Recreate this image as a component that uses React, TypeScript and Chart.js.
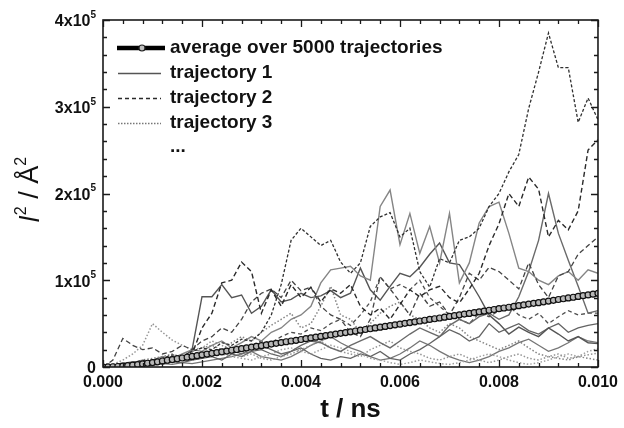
import { useEffect, useRef } from "react";
import { Chart, registerables } from "chart.js";

Chart.register(...registerables);

const FONT = "'Liberation Sans', Arial, Helvetica, sans-serif";

// time grid of the single trajectories (ns)
const TIME = [
  0, 0.0002, 0.0004, 0.0006, 0.0008, 0.001, 0.0012, 0.0014, 0.0016, 0.0018,
  0.002, 0.0022, 0.0024, 0.0026, 0.0028, 0.003, 0.0032, 0.0034, 0.0036, 0.0038,
  0.004, 0.0042, 0.0044, 0.0046, 0.0048, 0.005, 0.0052, 0.0054, 0.0056, 0.0058,
  0.006, 0.0062, 0.0064, 0.0066, 0.0068, 0.007, 0.0072, 0.0074, 0.0076, 0.0078,
  0.008, 0.0082, 0.0084, 0.0086, 0.0088, 0.009, 0.0092, 0.0094, 0.0096, 0.0098,
  0.01,
];

// time grid of the average curve (ns)
const AVG_TIME = [
  0, 0.0001, 0.0002, 0.0003, 0.0004, 0.0005, 0.0006, 0.0007, 0.0008, 0.0009,
  0.001, 0.0011, 0.0012, 0.0013, 0.0014, 0.0015, 0.0016, 0.0017, 0.0018, 0.0019,
  0.002, 0.0021, 0.0022, 0.0023, 0.0024, 0.0025, 0.0026, 0.0027, 0.0028, 0.0029,
  0.003, 0.0031, 0.0032, 0.0033, 0.0034, 0.0035, 0.0036, 0.0037, 0.0038, 0.0039,
  0.004, 0.0041, 0.0042, 0.0043, 0.0044, 0.0045, 0.0046, 0.0047, 0.0048, 0.0049,
  0.005, 0.0051, 0.0052, 0.0053, 0.0054, 0.0055, 0.0056, 0.0057, 0.0058, 0.0059,
  0.006, 0.0061, 0.0062, 0.0063, 0.0064, 0.0065, 0.0066, 0.0067, 0.0068, 0.0069,
  0.007, 0.0071, 0.0072, 0.0073, 0.0074, 0.0075, 0.0076, 0.0077, 0.0078, 0.0079,
  0.008, 0.0081, 0.0082, 0.0083, 0.0084, 0.0085, 0.0086, 0.0087, 0.0088, 0.0089,
  0.009, 0.0091, 0.0092, 0.0093, 0.0094, 0.0095, 0.0096, 0.0097, 0.0098, 0.0099,
  0.01,
];

// values in units of 10^3 Å^2
const AVG = [
  0, 0.1, 0.3, 0.6, 1.0, 1.5, 2.1, 2.8, 3.5, 4.3,
  5.1, 6.0, 6.9, 7.8, 8.6, 9.5, 10.4, 11.3, 12.2, 13.1,
  14.0, 14.9, 15.8, 16.6, 17.5, 18.4, 19.3, 20.2, 21.1, 22.0,
  22.9, 23.8, 24.6, 25.5, 26.4, 27.3, 28.2, 29.1, 30.0, 30.8,
  31.7, 32.6, 33.5, 34.4, 35.3, 36.2, 37.0, 37.9, 38.8, 39.7,
  40.6, 41.5, 42.4, 43.2, 44.1, 45.0, 45.9, 46.8, 47.7, 48.6,
  49.4, 50.3, 51.2, 52.1, 53.0, 53.9, 54.8, 55.6, 56.5, 57.4,
  58.3, 59.2, 60.1, 61.0, 61.8, 62.7, 63.6, 64.5, 65.4, 66.3,
  67.2, 68.0, 68.9, 69.8, 70.7, 71.6, 72.5, 73.4, 74.2, 75.1,
  76.0, 76.9, 77.8, 78.7, 79.6, 80.4, 81.3, 82.2, 83.1, 84.0,
  84.9,
];

const TRAJ_A = [0, 1, 3, 5, 8, 6, 10, 14, 12, 18, 22, 20, 28, 25, 32, 30, 40, 60, 95, 146, 160, 150, 140, 146, 121, 108, 120, 162, 173, 178, 150, 160, 110, 92, 125, 120, 146, 150, 160, 185, 200, 225, 245, 298, 340, 385, 345, 345, 282, 310, 285];
const TRAJ_B = [0, 2, 4, 3, 6, 8, 5, 10, 12, 15, 45, 62, 97, 100, 121, 110, 62, 89, 70, 95, 80, 92, 75, 90, 85, 95, 70, 60, 68, 55, 72, 89, 81, 89, 93, 80, 74, 90, 108, 140, 165, 200, 185, 219, 205, 150, 169, 158, 180, 250, 262];
const TRAJ_C = [0, 8, 33, 25, 20, 22, 15, 18, 25, 20, 30, 35, 45, 40, 55, 75, 85, 90, 80, 100, 88, 92, 70, 60, 55, 40, 35, 55, 104, 90, 75, 60, 85, 70, 75, 60, 80, 108, 100, 115, 110, 100, 90, 120, 95, 80, 105, 110, 130, 140, 150];
const TRAJ_D = [0, 2, 4, 6, 5, 8, 12, 10, 15, 20, 18, 25, 30, 22, 28, 35, 30, 40, 45, 55, 60, 70, 97, 112, 114, 116, 105, 100, 185, 204, 141, 177, 131, 162, 120, 177, 97, 120, 166, 185, 190, 154, 114, 110, 100, 95, 105, 110, 100, 112, 108];
const TRAJ_E = [0, 1, 2, 4, 3, 6, 8, 12, 10, 20, 81, 81, 95, 80, 83, 62, 70, 89, 75, 78, 85, 80, 82, 88, 80, 85, 114, 89, 77, 93, 108, 104, 115, 130, 143, 120, 118, 100, 81, 60, 50, 38, 46, 40, 35, 45, 38, 30, 35, 28, 27];
const TRAJ_F = [0, 1, 2, 3, 2, 5, 4, 6, 8, 10, 12, 15, 18, 20, 15, 22, 25, 20, 15, 18, 25, 30, 28, 22, 18, 25, 30, 35, 28, 22, 30, 38, 45, 40, 35, 48, 55, 50, 58, 62, 55, 60, 81, 110, 146, 200, 154, 123, 93, 62, 65];
const TRAJ_G = [0, 3, 8, 15, 25, 50, 40, 31, 25, 20, 22, 30, 25, 18, 12, 15, 10, 8, 12, 15, 20, 25, 30, 22, 18, 15, 12, 20, 25, 30, 22, 18, 15, 10, 8, 12, 15, 10, 8, 5, 8, 12, 15, 10, 8, 12, 15, 10, 12, 14, 16];
const TRAJ_H = [0, 1, 2, 3, 5, 4, 6, 8, 10, 12, 15, 18, 15, 12, 10, 8, 12, 15, 20, 22, 18, 15, 20, 25, 22, 18, 15, 10, 8, 5, 3, 5, 8, 6, 4, 3, 5, 8, 12, 15, 12, 8, 5, 3, 5, 8, 12, 15, 12, 18, 21];
const TRAJ_J = [0, 1, 2, 1, 3, 5, 4, 6, 5, 8, 10, 12, 8, 15, 12, 18, 20, 15, 12, 18, 22, 15, 10, 8, 12, 10, 15, 12, 18, 10, 8, 15, 20, 27, 35, 43, 38, 30, 35, 50, 40, 45, 50, 42, 38, 45, 50, 40, 45, 48, 50];
const TRAJ_K = [0, 0, 1, 2, 1, 2, 4, 3, 5, 4, 6, 8, 10, 12, 15, 18, 12, 10, 8, 12, 18, 25, 30, 35, 28, 22, 18, 12, 8, 10, 15, 22, 30, 25, 18, 12, 8, 5, 8, 12, 18, 22, 28, 32, 25, 18, 22, 28, 35, 30, 28];
const TRAJ_M = [0, 2, 5, 4, 8, 10, 12, 15, 10, 18, 22, 25, 20, 28, 35, 30, 40, 48, 55, 62, 45, 50, 70, 93, 60, 55, 40, 50, 62, 70, 75, 60, 55, 45, 40, 50, 45, 35, 30, 25, 20, 25, 30, 22, 15, 12, 10, 8, 12, 10, 8];
const TRAJ_N = [0, 1, 3, 2, 4, 6, 5, 8, 10, 8, 12, 15, 18, 22, 20, 25, 30, 28, 35, 40, 38, 45, 42, 50, 55, 48, 60, 75, 104, 90, 95, 89, 100, 80, 70, 60, 55, 50, 62, 58, 65, 70, 60, 55, 62, 50, 58, 65, 60, 62, 62];

const X_TICKS = [0, 0.002, 0.004, 0.006, 0.008, 0.01];
const X_TICK_LABELS = ["0.000", "0.002", "0.004", "0.006", "0.008", "0.010"];
const Y_TICKS = [0, 100, 200, 300, 400];
const Y_TICK_MAIN = ["0", "1x10", "2x10", "3x10", "4x10"];
const Y_TICK_EXP = ["", "5", "5", "5", "5"];
const LEGEND_LABELS = ["average over 5000 trajectories", "trajectory 1", "trajectory 2", "trajectory 3", "..."];

const SOLID: number[] = [];
const DASH = [5, 3];
const FINE = [3, 2];
const DOT = [1.5, 2];

const TRAJ_STYLES = [
  { values: TRAJ_A, color: "#303030", dash: FINE, width: 1.3 },
  { values: TRAJ_B, color: "#2a2a2a", dash: DASH, width: 1.4 },
  { values: TRAJ_C, color: "#444444", dash: DASH, width: 1.3 },
  { values: TRAJ_D, color: "#858585", dash: SOLID, width: 1.4 },
  { values: TRAJ_E, color: "#555555", dash: SOLID, width: 1.4 },
  { values: TRAJ_F, color: "#6a6a6a", dash: SOLID, width: 1.4 },
  { values: TRAJ_G, color: "#959595", dash: DOT, width: 1.5 },
  { values: TRAJ_H, color: "#a0a0a0", dash: DOT, width: 1.5 },
  { values: TRAJ_J, color: "#636363", dash: SOLID, width: 1.3 },
  { values: TRAJ_K, color: "#767676", dash: SOLID, width: 1.3 },
  { values: TRAJ_M, color: "#858585", dash: DOT, width: 1.5 },
  { values: TRAJ_N, color: "#505050", dash: [4, 3], width: 1.3 },
];

function toPoints(times: number[], values: number[]) {
  return values.map((v, i) => ({ x: times[i], y: v }));
}

const decorPlugin = {
  id: "decor",
  afterDraw(chart: any) {
    const { ctx, chartArea: a, scales } = chart;
    const xs = scales.x;
    const ys = scales.y;
    ctx.save();
    ctx.strokeStyle = "#1a1a1a";
    ctx.lineWidth = 1.6;
    ctx.setLineDash([]);
    ctx.strokeRect(a.left, a.top, a.right - a.left, a.bottom - a.top);

    ctx.lineWidth = 1.3;
    for (let k = 0; k <= 25; k++) {
      const px = Math.round(xs.getPixelForValue(k * 0.0004)) + 0.5;
      const len = k % 5 === 0 ? 7 : 4;
      ctx.beginPath();
      ctx.moveTo(px, a.bottom);
      ctx.lineTo(px, a.bottom - len);
      ctx.moveTo(px, a.top);
      ctx.lineTo(px, a.top + len);
      ctx.stroke();
    }
    for (let k = 0; k <= 20; k++) {
      const py = Math.round(ys.getPixelForValue(k * 20)) + 0.5;
      const len = k % 5 === 0 ? 7 : 4;
      ctx.beginPath();
      ctx.moveTo(a.left, py);
      ctx.lineTo(a.left + len, py);
      ctx.moveTo(a.right, py);
      ctx.lineTo(a.right - len, py);
      ctx.stroke();
    }

    // y tick labels with exponent
    ctx.fillStyle = "#111";
    ctx.textBaseline = "middle";
    ctx.textAlign = "left";
    Y_TICKS.forEach((v, i) => {
      const py = ys.getPixelForValue(v);
      ctx.font = `bold 16px ${FONT}`;
      const wm = ctx.measureText(Y_TICK_MAIN[i]).width;
      ctx.font = `bold 10px ${FONT}`;
      const we = Y_TICK_EXP[i] ? ctx.measureText(Y_TICK_EXP[i]).width : 0;
      const x0 = a.left - 7 - wm - we;
      ctx.font = `bold 16px ${FONT}`;
      ctx.fillText(Y_TICK_MAIN[i], x0, py + 2);
      if (Y_TICK_EXP[i]) {
        ctx.font = `bold 10px ${FONT}`;
        ctx.fillText(Y_TICK_EXP[i], x0 + wm, py - 5);
      }
    });

    // x title
    ctx.font = `bold 26px ${FONT}`;
    ctx.textAlign = "center";
    ctx.fillText("t / ns", (a.left + a.right) / 2, 410);

    // y title (rotated)
    ctx.save();
    ctx.translate(30, 190);
    ctx.rotate(-Math.PI / 2);
    const parts = [
      { t: "l", f: `italic 27px ${FONT}`, dy: 0 },
      { t: "2", f: `16px ${FONT}`, dy: -9 },
      { t: " / Å", f: `27px ${FONT}`, dy: 0 },
      { t: "2", f: `16px ${FONT}`, dy: -9 },
    ];
    let total = 0;
    const widths = parts.map((p) => {
      ctx.font = p.f;
      const w = ctx.measureText(p.t).width;
      total += w;
      return w;
    });
    let cx = -total / 2;
    ctx.textAlign = "left";
    parts.forEach((p, i) => {
      ctx.font = p.f;
      ctx.fillText(p.t, cx, p.dy + 1);
      cx += widths[i] + (i === 0 ? 1 : 0);
    });
    ctx.restore();

    // legend
    const rows = [48, 73, 98, 123, 147];
    const lx0 = 117;
    const lx1 = 163;
    ctx.strokeStyle = "#000";
    ctx.lineWidth = 4.5;
    ctx.setLineDash([]);
    ctx.beginPath();
    ctx.moveTo(lx0, rows[0]);
    ctx.lineTo(lx1 + 2, rows[0]);
    ctx.stroke();
    ctx.beginPath();
    ctx.arc(142, rows[0], 3, 0, Math.PI * 2);
    ctx.fillStyle = "#c0c0c0";
    ctx.fill();
    ctx.lineWidth = 1.2;
    ctx.strokeStyle = "#222";
    ctx.stroke();
    const samples = [
      { color: "#555555", dash: SOLID, width: 1.3 },
      { color: "#2a2a2a", dash: [4, 3], width: 1.3 },
      { color: "#777777", dash: [1.5, 1.5], width: 1.3 },
    ];
    samples.forEach((s, i) => {
      ctx.strokeStyle = s.color;
      ctx.lineWidth = s.width;
      ctx.setLineDash(s.dash);
      ctx.beginPath();
      ctx.moveTo(lx0 + 1, rows[i + 1] + 0.5);
      ctx.lineTo(lx1 - 2, rows[i + 1] + 0.5);
      ctx.stroke();
    });
    ctx.setLineDash([]);
    ctx.fillStyle = "#111";
    ctx.font = `bold 19px ${FONT}`;
    ctx.textAlign = "left";
    ctx.textBaseline = "middle";
    LEGEND_LABELS.forEach((lab, i) => {
      ctx.fillText(lab, 170, rows[i]);
    });
    ctx.restore();
  },
};

export default function App() {
  const canvasRef = useRef<HTMLCanvasElement | null>(null);

  useEffect(() => {
    document.body.style.margin = "0";
    const canvas = canvasRef.current;
    if (!canvas) return;

    const datasets: any[] = [
      {
        data: toPoints(AVG_TIME, AVG),
        borderColor: "#000",
        borderWidth: 5,
        pointRadius: 3,
        pointBackgroundColor: "#b8b8b8",
        pointBorderColor: "#111",
        pointBorderWidth: 1.2,
        fill: false,
        tension: 0,
      },
      ...TRAJ_STYLES.map((s) => ({
        data: toPoints(TIME, s.values),
        borderColor: s.color,
        borderWidth: s.width,
        borderDash: s.dash,
        pointRadius: 0,
        fill: false,
        tension: 0,
      })),
    ];

    const chart = new Chart(canvas, {
      type: "line",
      data: { datasets },
      options: {
        animation: false,
        responsive: false,
        maintainAspectRatio: false,
        devicePixelRatio: 1,
        events: [],
        layout: { padding: { left: 0, right: 22, top: 20, bottom: 0 } },
        plugins: { legend: { display: false }, tooltip: { enabled: false } },
        scales: {
          x: {
            type: "linear",
            min: 0,
            max: 0.01,
            grid: { display: false, drawTicks: false },
            border: { display: false },
            afterBuildTicks: (s: any) => {
              s.ticks = X_TICKS.map((v) => ({ value: v }));
            },
            afterFit: (s: any) => {
              s.height = 61;
            },
            ticks: {
              autoSkip: false,
              maxRotation: 0,
              padding: 6,
              color: "#111",
              font: { family: FONT, size: 16, weight: "bold" },
              callback: (_v: any, i: number) => X_TICK_LABELS[i],
            },
          },
          y: {
            type: "linear",
            min: 0,
            max: 400,
            grid: { display: false, drawTicks: false },
            border: { display: false },
            ticks: { display: false },
            afterFit: (s: any) => {
              s.width = 103;
            },
          },
        },
      },
      plugins: [decorPlugin],
    });
    return () => chart.destroy();
  }, []);

  return (
    <div style={{ width: 624, height: 428, background: "#fff" }}>
      <canvas ref={canvasRef} width={624} height={428} style={{ display: "block" }} />
    </div>
  );
}
